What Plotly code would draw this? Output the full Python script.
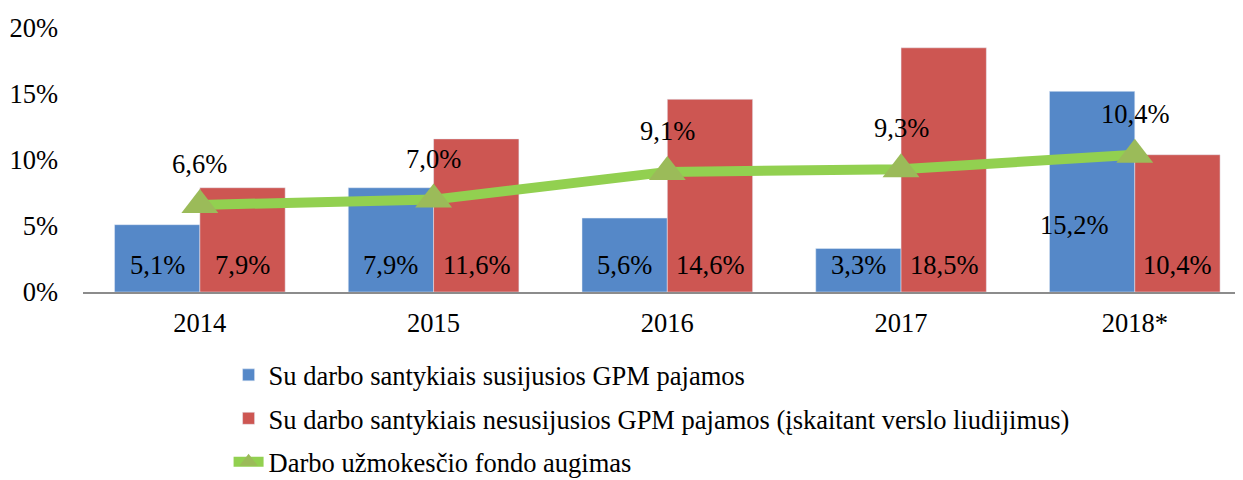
import plotly.graph_objects as go

categories = ["2014", "2015", "2016", "2017", "2018*"]
related = [5.1, 7.9, 5.6, 3.3, 15.2]
unrelated = [7.9, 11.6, 14.6, 18.5, 10.4]
wage_fund = [6.6, 7.0, 9.1, 9.3, 10.4]
names = [
    "Su darbo santykiais susijusios GPM pajamos",
    "Su darbo santykiais nesusijusios GPM pajamos (įskaitant verslo liudijimus)",
    "Darbo užmokesčio fondo augimas",
]
y_ticks = [0, 5, 10, 15, 20]

BLUE = "#5588C8"
RED = "#CD5652"
GREEN_LINE = "#92D050"
GREEN_MARK = "#9BBB59"
FONT = "Liberation Serif"
FS = 26.5

def fmt(v):
    return f"{v:.1f}".replace(".", ",") + "%"

xs = list(range(len(categories)))
fig = go.Figure()
fig.add_trace(go.Bar(x=xs, y=related, name=names[0], marker_color=BLUE,
                     legendgroup="a", hoverinfo="skip"))
fig.add_trace(go.Bar(x=xs, y=unrelated, name=names[1], marker_color=RED,
                     legendgroup="b", hoverinfo="skip"))
fig.add_trace(go.Scatter(x=xs, y=wage_fund, name=names[2], mode="lines+markers",
                         line=dict(color=GREEN_LINE, width=10),
                         marker=dict(symbol="triangle-up", size=32, color=GREEN_MARK),
                         legendgroup="c", hoverinfo="skip"))

bargap = 0.27
half = (1 - bargap) / 4  # center offset of each bar within group
annotations = []
for i, (a, b, c) in enumerate(zip(related, unrelated, wage_fund)):
    if i == len(categories) - 1:
        annotations.append(dict(x=i - half, y=0, text=fmt(a), showarrow=False,
                                yshift=67, xshift=-18))
    else:
        annotations.append(dict(x=i - half, y=0, text=fmt(a), showarrow=False, yshift=27))
    annotations.append(dict(x=i + half, y=0, text=fmt(b), showarrow=False, yshift=27))
    annotations.append(dict(x=i, y=c, text=fmt(c), showarrow=False, yshift=41))
for an in annotations:
    an.update(xref="x", yref="y", font=dict(family=FONT, size=FS, color="black"))

# page body has an 8px margin, so the figure is sized/offset to compensate
fig.update_layout(
    width=1235, height=472,
    margin=dict(l=75, r=0, t=20, b=188, autoexpand=False),
    paper_bgcolor="white", plot_bgcolor="white",
    barmode="group", bargap=bargap, bargroupgap=0,
    font=dict(family=FONT, size=FS, color="black"),
    showlegend=True,
    legend=dict(x=0.1255, y=-0.224, xanchor="left", yanchor="top",
                orientation="v", traceorder="grouped", tracegroupgap=6,
                font=dict(family=FONT, size=FS, color="black"),
                bgcolor="rgba(0,0,0,0)"),
    annotations=annotations,
)
fig.update_xaxes(range=[-0.5, 4.463], tickvals=xs, ticktext=categories,
                 showline=True, linecolor="#8C8C8C", linewidth=2,
                 showgrid=False, zeroline=False, ticks="",
                 ticklabelstandoff=6, fixedrange=True)
fig.update_yaxes(range=[0, 20], tickvals=y_ticks, ticktext=[f"{t}%" for t in y_ticks],
                 showline=False, showgrid=False, zeroline=False, ticks="",
                 ticklabelstandoff=24, fixedrange=True)

fig.write_html("out.html", config={"displayModeBar": False})
